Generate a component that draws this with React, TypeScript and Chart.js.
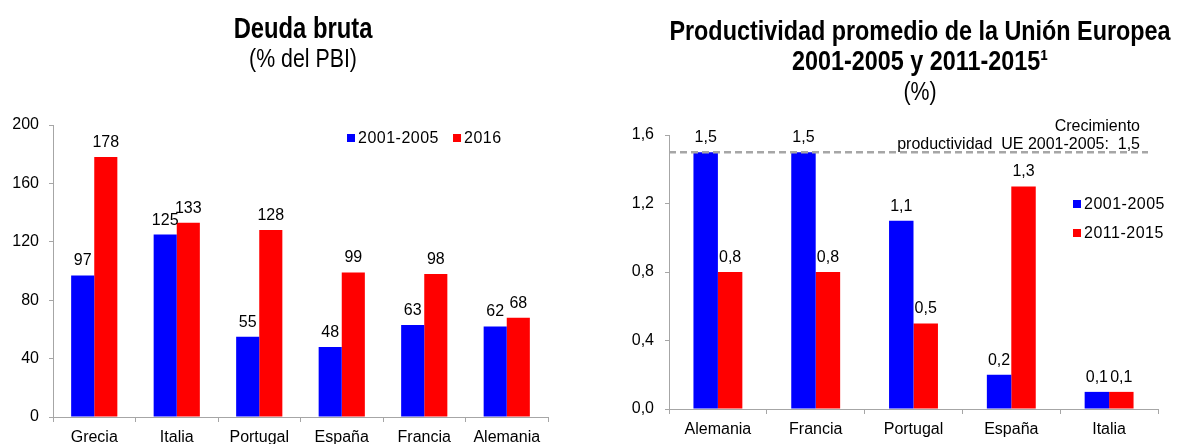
import React, { useEffect, useRef } from 'react';
import { Chart, registerables } from 'chart.js';

Chart.register(...registerables);

// ---------- data ----------
const debtCategories = ['Grecia', 'Italia', 'Portugal', 'España', 'Francia', 'Alemania'];
const debtSeriesA = [97, 125, 55, 48, 63, 62]; // 2001-2005
const debtSeriesB = [178, 133, 128, 99, 98, 68]; // 2016
const debtTicks = [0, 40, 80, 120, 160, 200];
const debtLabels = ['2001-2005', '2016'];

const prodCategories = ['Alemania', 'Francia', 'Portugal', 'España', 'Italia'];
const prodSeriesA = [1.5, 1.5, 1.1, 0.2, 0.1]; // 2001-2005
const prodSeriesB = [0.8, 0.8, 0.5, 1.3, 0.1]; // 2011-2015
const prodTicks = [0, 0.4, 0.8, 1.2, 1.6];
const prodLabels = ['2001-2005', '2011-2015'];
const euProductivity = 1.5;

// ---------- styles ----------
const BLUE = '#0000FF';
const RED = '#FF0000';
const AXIS = '#a6a6a6';
const FONT = "'Liberation Sans', Arial, Helvetica, sans-serif";
const NARROW = 0.82; // Arial Narrow style horizontal condensing for titles

const fmtComma = (v: number) => v.toFixed(1).replace('.', ',');
const fmtInt = (v: number) => String(Math.round(v));

function makeValueLabels(format: (v: number) => string, size: number, offset: number) {
  return {
    id: 'valueLabels',
    afterDatasetsDraw(chart: any) {
      const ctx = chart.ctx;
      ctx.save();
      ctx.font = `${size}px ${FONT}`;
      ctx.fillStyle = '#000';
      ctx.textAlign = 'center';
      ctx.textBaseline = 'alphabetic';
      chart.data.datasets.forEach((ds: any, di: number) => {
        const meta = chart.getDatasetMeta(di);
        meta.data.forEach((el: any, i: number) => {
          ctx.fillText(format(ds.data[i]), el.x, el.y - offset);
        });
      });
      ctx.restore();
    },
  };
}

type TitleLine = { text: string; bold?: boolean; size: number; x: number; y: number };
function makeTitles(lines: TitleLine[]) {
  return {
    id: 'titleLines',
    afterDraw(chart: any) {
      const ctx = chart.ctx;
      lines.forEach((l) => {
        ctx.save();
        ctx.fillStyle = '#000';
        ctx.textAlign = 'center';
        ctx.textBaseline = 'alphabetic';
        ctx.font = `${l.bold ? 'bold ' : ''}${l.size}px ${FONT}`;
        ctx.translate(l.x, l.y);
        ctx.scale(NARROW, 1);
        ctx.fillText(l.text, 0, 0);
        ctx.restore();
      });
    },
  };
}

function makeLegend(x: number, y: number, dir: 'row' | 'column', gap: number) {
  return {
    id: 'boxLegend',
    afterDraw(chart: any) {
      const ctx = chart.ctx;
      ctx.save();
      ctx.font = `16px ${FONT}`;
      try {
        (ctx as any).letterSpacing = '0.5px';
      } catch (e) {
        /* ignore */
      }
      ctx.textBaseline = 'middle';
      ctx.textAlign = 'left';
      let cx = x;
      let cy = y;
      chart.data.datasets.forEach((ds: any) => {
        ctx.fillStyle = ds.backgroundColor;
        ctx.fillRect(cx, cy - 4, 8, 8);
        ctx.fillStyle = '#000';
        ctx.fillText(ds.label, cx + 11, cy + 0.5);
        if (dir === 'row') {
          cx += 11 + ctx.measureText(ds.label).width + gap;
        } else {
          cy += gap;
        }
      });
      ctx.restore();
    },
  };
}

function makeRefLine(value: number, endX: number, textRight: number, lines: { text: string; y: number }[]) {
  return {
    id: 'refLine',
    afterDatasetsDraw(chart: any) {
      const ctx = chart.ctx;
      const yPix = chart.scales.y.getPixelForValue(value);
      ctx.save();
      ctx.strokeStyle = AXIS;
      ctx.lineWidth = 2.5;
      ctx.setLineDash([7, 4]);
      ctx.beginPath();
      ctx.moveTo(chart.chartArea.left, yPix);
      ctx.lineTo(endX, yPix);
      ctx.stroke();
      ctx.setLineDash([]);
      ctx.font = `16px ${FONT}`;
      ctx.fillStyle = '#000';
      ctx.textAlign = 'right';
      ctx.textBaseline = 'middle';
      lines.forEach((l) => ctx.fillText(l.text, textRight, l.y));
      ctx.restore();
    },
  };
}

function axisOptions(opts: {
  ticks: number[];
  fmt: (v: number) => string;
  yWidth: number;
  xHeight: number;
  tickPad: number;
}) {
  return {
    x: {
      grid: {
        display: true,
        drawOnChartArea: false,
        drawTicks: true,
        tickLength: 5,
        color: AXIS,
        offset: true,
      },
      border: { display: true, color: AXIS, width: 1 },
      ticks: { color: '#000', font: { size: 16, family: FONT }, padding: 6, maxRotation: 0 },
      afterFit: (s: any) => {
        s.height = opts.xHeight;
      },
    },
    y: {
      min: opts.ticks[0],
      max: opts.ticks[opts.ticks.length - 1],
      afterBuildTicks: (s: any) => {
        s.ticks = opts.ticks.map((v) => ({ value: v }));
      },
      grid: {
        display: true,
        drawOnChartArea: false,
        drawTicks: true,
        tickLength: 4,
        color: AXIS,
      },
      border: { display: true, color: AXIS, width: 1 },
      ticks: {
        color: '#000',
        font: { size: 16, family: FONT },
        padding: opts.tickPad,
        callback: (v: any) => opts.fmt(Number(v)),
      },
      afterFit: (s: any) => {
        s.width = opts.yWidth;
      },
    },
  };
}

function DebtChart() {
  const ref = useRef<HTMLCanvasElement>(null);
  useEffect(() => {
    if (!ref.current) return;
    const chart = new Chart(ref.current, {
      type: 'bar',
      data: {
        labels: debtCategories,
        datasets: [
          { label: debtLabels[0], data: debtSeriesA, backgroundColor: BLUE, categoryPercentage: 0.56, barPercentage: 1 },
          { label: debtLabels[1], data: debtSeriesB, backgroundColor: RED, categoryPercentage: 0.56, barPercentage: 1 },
        ],
      },
      options: {
        animation: false,
        responsive: false,
        devicePixelRatio: 1,
        layout: { padding: { left: 0, right: 42, top: 125, bottom: 0 } },
        plugins: { legend: { display: false }, title: { display: false }, tooltip: { enabled: false } },
        scales: axisOptions({ ticks: debtTicks, fmt: fmtInt, yWidth: 53, xHeight: 27, tickPad: 10 }) as any,
      },
      plugins: [
        makeValueLabels(fmtInt, 16, 10),
        makeTitles([
          { text: 'Deuda bruta', bold: true, size: 29, x: 303, y: 38 },
          { text: '(% del PBI)', size: 26, x: 303, y: 67 },
        ]),
        makeLegend(347, 138, 'row', 14),
      ],
    } as any);
    return () => chart.destroy();
  }, []);
  return <canvas ref={ref} width={590} height={444} style={{ display: 'block' }} />;
}

function ProdChart() {
  const ref = useRef<HTMLCanvasElement>(null);
  useEffect(() => {
    if (!ref.current) return;
    const chart = new Chart(ref.current, {
      type: 'bar',
      data: {
        labels: prodCategories,
        datasets: [
          { label: prodLabels[0], data: prodSeriesA, backgroundColor: BLUE, categoryPercentage: 0.5, barPercentage: 1 },
          { label: prodLabels[1], data: prodSeriesB, backgroundColor: RED, categoryPercentage: 0.5, barPercentage: 1 },
        ],
      },
      options: {
        animation: false,
        responsive: false,
        devicePixelRatio: 1,
        layout: { padding: { left: 0, right: 23, top: 135, bottom: 0 } },
        plugins: { legend: { display: false }, title: { display: false }, tooltip: { enabled: false } },
        scales: axisOptions({ ticks: prodTicks, fmt: fmtComma, yWidth: 79, xHeight: 35, tickPad: 11 }) as any,
      },
      plugins: [
        makeRefLine(euProductivity, 558, 550, [
          { text: 'Crecimiento', y: 127 },
          { text: `productividad  UE 2001-2005:  ${fmtComma(euProductivity)}`, y: 145 },
        ]),
        makeValueLabels(fmtComma, 16, 10),
        makeTitles([
          { text: 'Productividad promedio de la Unión Europea', bold: true, size: 28.5, x: 330, y: 40 },
          { text: '2001-2005 y 2011-2015¹', bold: true, size: 28.5, x: 330, y: 70 },
          { text: '(%)', size: 26, x: 330, y: 100 },
        ]),
        makeLegend(483, 204, 'column', 29),
      ],
    } as any);
    return () => chart.destroy();
  }, []);
  return <canvas ref={ref} width={591} height={444} style={{ display: 'block' }} />;
}

export default function App() {
  return (
    <div
      style={{
        position: 'fixed',
        left: 0,
        top: 0,
        width: 1181,
        height: 444,
        overflow: 'hidden',
        background: '#fff',
        display: 'flex',
      }}
    >
      <DebtChart />
      <ProdChart />
    </div>
  );
}
